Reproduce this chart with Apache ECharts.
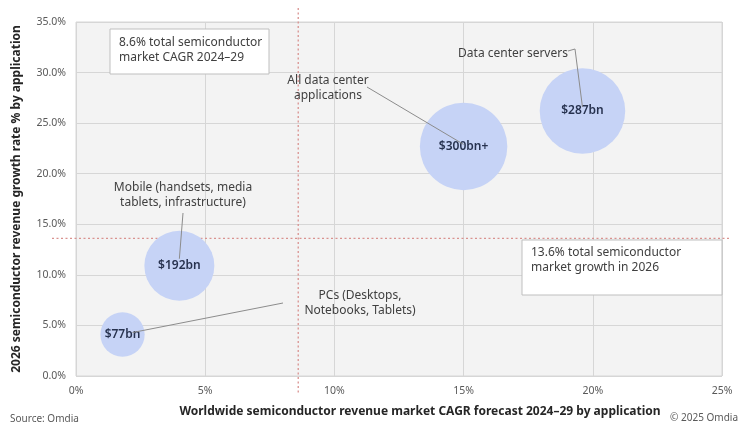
<!DOCTYPE html>
<html>
<head>
<meta charset="utf-8">
<script src="https://cdn.jsdelivr.net/npm/echarts@6/dist/echarts.min.js"></script>
<style>
  html, body { margin: 0; padding: 0; background: #ffffff; }
  #chart { width: 740px; height: 424px; }
</style>
</head>
<body>
<div id="chart"></div>
<script>
// Semiconductor revenue by application: 5-year CAGR vs 2026 growth, bubble = 2026 revenue
const applications = ['PCs', 'Mobile', 'All data center applications', 'Data center servers'];
const cagr2429 = [1.8, 4.0, 15.0, 19.6];        // % x-axis
const growth2026 = [4.1, 10.9, 22.7, 26.2];     // % y-axis
const revenueBn = [77, 192, 300, 287];          // $bn, bubble size
const bubbleLabels = ['$77bn', '$192bn', '$300bn+', '$287bn'];

const xTicks = [0, 5, 10, 15, 20, 25];
const yTicks = [0, 5, 10, 15, 20, 25, 30, 35];

// market-wide reference values
const totalCagr = 8.6;
const totalGrowth2026 = 13.6;

const FONT = '"Noto Sans", "Open Sans", sans-serif';
const TEXT = '#404040';

const chart = echarts.init(document.getElementById('chart'), null, { renderer: 'canvas' });

const points = applications.map((name, i) => ({
  name: name,
  value: [cagr2429[i], growth2026[i], revenueBn[i]],
  label: { formatter: bubbleLabels[i] }
}));

chart.setOption({
  animation: false,
  backgroundColor: '#ffffff',
  textStyle: { fontFamily: FONT },
  grid: {
    left: 76, right: 18, top: 22, bottom: 48,
    show: true, backgroundColor: '#f3f3f3', borderColor: '#d6d6d6', borderWidth: 1
  },
  xAxis: {
    type: 'value',
    min: xTicks[0], max: xTicks[xTicks.length - 1], interval: 5,
    name: 'Worldwide semiconductor revenue market CAGR forecast 2024\u201329 by application',
    nameLocation: 'middle', nameGap: 30,
    nameTextStyle: { fontSize: 12, fontWeight: 'bold', color: '#262626', padding: [0, 0, 0, 42], fontFamily: FONT },
    axisLine: { show: false }, axisTick: { show: false },
    axisLabel: { formatter: v => v + '%', color: '#595959', fontSize: 10.5, margin: 10, fontFamily: FONT },
    splitLine: { show: true, lineStyle: { color: '#d6d6d6', width: 1 } }
  },
  yAxis: {
    type: 'value',
    min: yTicks[0], max: yTicks[yTicks.length - 1], interval: 5,
    name: '2026 semiconductor revenue growth rate % by application',
    nameLocation: 'middle', nameGap: 53,
    nameTextStyle: { fontSize: 12, fontWeight: 'bold', color: '#262626', fontFamily: FONT },
    axisLine: { show: false }, axisTick: { show: false },
    axisLabel: { formatter: v => v.toFixed(1) + '%', color: '#595959', fontSize: 10.5, margin: 10, fontFamily: FONT },
    splitLine: { show: true, lineStyle: { color: '#d6d6d6', width: 1 } }
  },
  series: [{
    type: 'scatter',
    data: points,
    symbolSize: v => 5.05 * Math.sqrt(v[2]),
    itemStyle: { color: '#c6d3f6', opacity: 1 },
    label: {
      show: true, position: 'inside',
      color: '#27324f', fontSize: 12, fontWeight: 600, fontFamily: FONT
    },
    z: 3
  }]
});

// Overlay: dotted market reference lines, callout boxes and leader lines
const px = (x, y) => chart.convertToPixel({ gridIndex: 0 }, [x, y]);
const origin = px(0, 0);
const corner = px(25, 35);
const ref = px(totalCagr, totalGrowth2026);
const center = i => px(cagr2429[i], growth2026[i]);

const dotStyle = { stroke: '#d9928f', lineWidth: 1.3, lineDash: [2, 2.5] };
const leaderStyle = { stroke: '#8c8c8c', lineWidth: 1 };
const noteText = (x, y, text) => ({
  type: 'text', x: x, y: y, z: 10,
  style: { text: text, fill: TEXT, font: '12px ' + FONT, lineHeight: 15 }
});
const centerText = (x, y, text) => ({
  type: 'text', x: x, y: y, z: 10,
  style: { text: text, fill: TEXT, font: '12px ' + FONT, lineHeight: 15, align: 'center' }
});

const c0 = center(0), c1 = center(1), c2 = center(2), c3 = center(3);

chart.setOption({
  graphic: [
    // reference lines reaching a little past the plot frame
    { type: 'line', z: 2, shape: { x1: ref[0], y1: corner[1] - 14, x2: ref[0], y2: origin[1] + 17 }, style: dotStyle },
    { type: 'line', z: 2, shape: { x1: origin[0] - 24, y1: ref[1], x2: corner[0] + 8, y2: ref[1] }, style: dotStyle },

    // callout boxes
    { type: 'rect', z: 8, shape: { x: 110, y: 29, width: 159, height: 45 },
      style: { fill: '#ffffff', stroke: '#bfbfbf', lineWidth: 1 } },
    noteText(119, 35, '8.6% total semiconductor\nmarket CAGR 2024\u201329'),
    { type: 'rect', z: 8, shape: { x: 522, y: 240, width: 200, height: 55 },
      style: { fill: '#ffffff', stroke: '#bfbfbf', lineWidth: 1 } },
    noteText(531, 245, '13.6% total semiconductor\nmarket growth in 2026'),

    // bubble callouts
    centerText(513, 46, 'Data center servers'),
    { type: 'polyline', z: 9, shape: { points: [[568, 51], [575, 49], [c3[0], c3[1] - 4]] }, style: leaderStyle },

    centerText(328, 73, 'All data center\napplications'),
    { type: 'line', z: 9, shape: { x1: 367, y1: 87, x2: c2[0], y2: c2[1] - 2 }, style: leaderStyle },

    centerText(183, 180, 'Mobile (handsets, media\ntablets, infrastructure)'),
    { type: 'line', z: 9, shape: { x1: 183, y1: 213, x2: c1[0], y2: c1[1] - 7 }, style: leaderStyle },

    centerText(360, 288, 'PCs (Desktops,\nNotebooks, Tablets)'),
    { type: 'line', z: 9, shape: { x1: 283, y1: 303, x2: c0[0] + 10, y2: c0[1] - 2 }, style: leaderStyle },

    // footer
    { type: 'text', x: 10, y: 414, style: { text: 'Source: Omdia', fill: '#595959', font: '10px ' + FONT } },
    { type: 'text', x: 738, y: 413, style: { text: '\u00a9 2025 Omdia', fill: '#595959', font: '10px ' + FONT, align: 'right' } }
  ]
});
</script>
</body>
</html>
